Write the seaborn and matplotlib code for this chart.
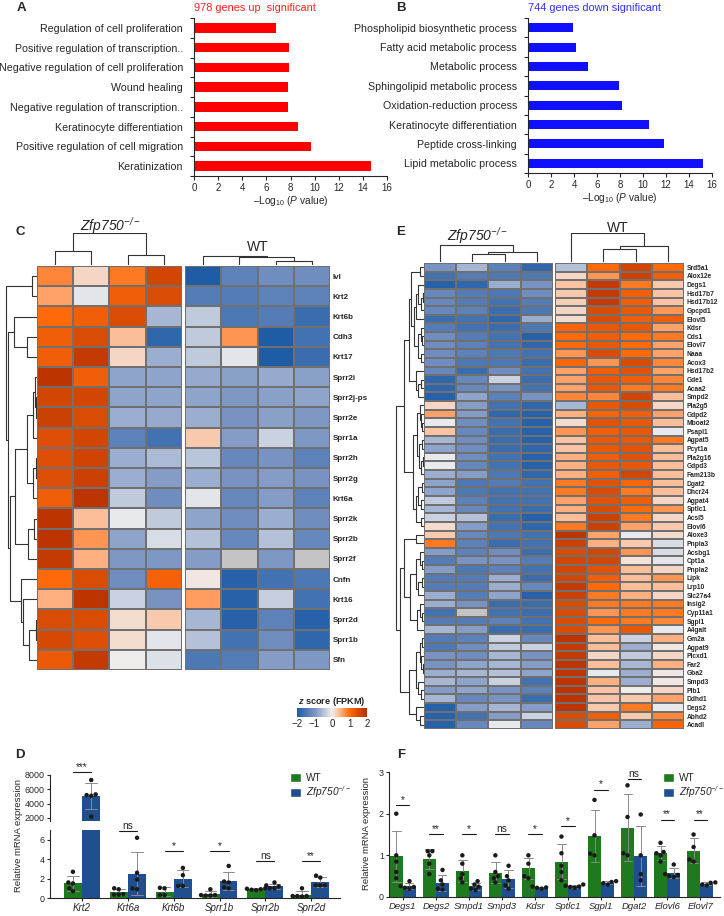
import numpy as np
import pandas as pd
import matplotlib
matplotlib.use('Agg')
import matplotlib.pyplot as plt
import seaborn as sns
from matplotlib.colors import LinearSegmentedColormap
from matplotlib.patches import Patch

W, H = 724, 916

    # GO terms (panels A, B)

go_up_terms = ['Regulation of cell proliferation', 'Positive regulation of transcription..',
               'Negative regulation of cell proliferation', 'Wound healing',
               'Negative regulation of transcription..', 'Keratinocyte differentiation',
               'Positive regulation of cell migration', 'Keratinization']
go_up_vals = [6.8, 7.9, 7.9, 7.8, 7.8, 8.6, 9.7, 14.7]

go_down_terms = ['Phospholipid biosynthetic process', 'Fatty acid metabolic process',
                 'Metabolic process', 'Sphingolipid metabolic process',
                 'Oxidation-reduction process', 'Keratinocyte differentiation',
                 'Peptide cross-linking', 'Lipid metabolic process']
go_down_vals = [3.9, 4.2, 5.2, 7.9, 8.2, 10.5, 11.8, 15.2]

    # heatmap C (z score, 4 KO + 4 WT samples)

c_genes = ['Ivl', 'Krt2', 'Krt6b', 'Cdh3', 'Krt17', 'Sprr2i', 'Sprr2j-ps', 'Sprr2e', 'Sprr1a',
           'Sprr2h', 'Sprr2g', 'Krt6a', 'Sprr2k', 'Sprr2b', 'Sprr2f', 'Cnfn', 'Krt16',
           'Sprr2d', 'Sprr1b', 'Sfn']
c_ko = [[0.8, 0.2, 0.9, 1.6], [0.6, -0.1, 1.2, 1.5], [1.0, 1.2, 1.5, -0.6], [1.2, 1.5, 0.4, -1.8],
        [1.2, 1.8, 0.2, -0.7], [1.9, 1.2, -0.8, -0.8], [1.6, 1.6, -0.8, -0.8], [1.7, 1.5, -0.7, -0.75],
        [1.45, 1.6, -1.3, -1.6], [1.45, 1.65, -0.7, -0.55], [1.45, 1.7, -0.7, -0.9], [1.2, 1.9, -0.4, -1.1],
        [1.9, 0.4, -0.05, -0.4], [1.9, 0.7, -0.8, -0.2], [1.8, 0.5, -0.95, -0.95], [1.0, 1.5, -1.1, 1.15],
        [0.5, 1.9, -0.3, -1.0], [1.5, 1.5, 0.15, 0.3], [1.55, 1.45, 0.15, -0.1], [1.25, 1.8, 0.0, -0.15]]
c_wt = [[-2.0, -1.3, -1.1, -1.1], [-1.4, -1.4, -1.3, -1.3], [-0.4, -1.5, -1.4, -1.7], [-0.4, 0.7, -2.0, -1.6],
        [-0.4, -0.1, -2.0, -1.7], [-0.75, -0.85, -0.75, -0.85], [-0.8, -0.95, -0.85, -0.8], [-0.7, -1.0, -0.85, -0.95],
        [0.3, -0.9, -0.3, -0.95], [-0.45, -1.2, -1.0, -1.3], [-0.7, -1.0, -0.9, -1.0], [-0.1, -1.2, -0.9, -1.3],
        [-0.8, -1.1, -0.7, -1.1], [-0.5, -1.2, -0.5, -1.2], [-0.9, np.nan, -0.95, np.nan], [0.05, -1.9, -1.6, -1.5],
        [0.65, -1.9, -0.35, -1.6], [-0.6, -1.9, -1.3, -1.9], [-0.5, -1.6, -1.1, -1.8], [-1.5, -1.4, -0.9, -0.95]]

# dendrograms as (height, left, right)
c_row_tree = (0.97, (0.15, 'Ivl', 'Krt2'),
              (0.9, (0.72, 'Krt6b', (0.32, 'Cdh3', 'Krt17')),
               (0.85, (0.7, (0.3, (0.12, (0.05, 'Sprr2i', (0.03, 'Sprr2j-ps', 'Sprr2e')), 'Sprr1a'),
                                  (0.12, (0.04, 'Sprr2h', 'Sprr2g'), 'Krt6a')),
                            (0.27, (0.1, 'Sprr2k', 'Sprr2b'), 'Sprr2f')),
                (0.5, 'Cnfn', (0.45, 'Krt16', (0.25, (0.03, 'Sprr2d', 'Sprr1b'), 'Sfn'))))))
c_col_ko = (32, (14, 0, 1), (10, 2, 3))
c_col_wt = (9, 0, (8.3, 1, (4, 2, 3)))

    # heatmap E

e_genes = ['Srd5a1', 'Alox12e', 'Degs1', 'Hsd17b7', 'Hsd17b12', 'Gpcpd1', 'Elovl5', 'Kdsr', 'Cds1',
           'Elovl7', 'Naaa', 'Acox3', 'Hsd17b2', 'Gde1', 'Acaa2', 'Smpd2', 'Pla2g5', 'Gdpd2', 'Mboat2',
           'Psapl1', 'Agpat5', 'Pcyt1a', 'Pla2g16', 'Gdpd3', 'Fam213b', 'Dgat2', 'Dhcr24', 'Agpat4',
           'Sptlc1', 'Acsl5', 'Elovl6', 'Aloxe3', 'Pnpla3', 'Acsbg1', 'Cpt1a', 'Pnpla2', 'Lipk', 'Lrp10',
           'Slc27a4', 'Insig2', 'Cyp11a1', 'Sgpl1', 'A4galt', 'Gm2a', 'Agpat9', 'Plcxd1', 'Far2', 'Gba2',
           'Smpd3', 'Plb1', 'Ddhd1', 'Degs2', 'Abhd2', 'Acadl']
e_ko = [[-1.0, -0.6, -1.3, -1.8], [-1.6, -1.4, -1.5, -1.5], [-1.9, -1.8, -0.7, -1.0], [-1.2, -1.4, -1.5, -1.1],
        [-1.2, -1.4, -1.6, -1.4], [-1.2, -1.3, -1.7, -1.5], [-1.7, -1.6, -1.8, -0.7], [-1.4, -1.6, -1.7, -1.5],
        [-1.1, -1.4, -1.6, -1.9], [-1.1, -1.3, -1.6, -1.8], [-1.1, -1.3, -1.5, -1.6], [-1.1, -1.5, -1.5, -1.7],
        [-1.2, -1.7, -1.1, -1.6], [-1.8, -1.2, -0.3, -1.7], [-1.8, -1.2, -1.0, -1.6], [-1.9, -0.8, -1.3, -1.0],
        [0.2, -0.9, -1.6, -1.8], [0.6, -0.9, -1.8, -1.9], [-0.05, -1.1, -1.6, -1.9], [0.35, -1.2, -1.7, -1.9],
        [-0.6, -1.1, -1.7, -1.9], [-0.8, -1.1, -1.7, -1.8], [-0.05, -1.1, -1.6, -1.9], [-0.05, -1.2, -1.6, -1.9],
        [-0.7, -0.9, -1.5, -1.8], [-0.8, -1.5, -1.4, -1.6], [-0.8, -1.5, -1.6, -1.6], [-0.4, -1.3, -1.6, -1.6],
        [-0.6, -1.2, -1.6, -1.7], [-0.3, -0.5, -1.7, -1.9], [0.15, -0.9, -1.6, -1.8], [0.3, -1.2, -1.5, -1.6],
        [0.9, -1.3, -1.7, -1.6], [-0.9, -1.3, -1.1, -1.7], [-1.4, -1.0, -1.0, -1.4], [-0.9, -1.5, -1.3, -1.6],
        [-1.4, -1.4, -0.7, -1.7], [-1.4, -1.4, -0.7, -1.2], [-0.7, -1.4, -0.8, -1.9], [-0.7, -1.0, -1.7, -1.7],
        [-1.6, np.nan, -1.6, -1.7], [-1.4, -1.4, -1.3, -1.6], [-0.6, -0.9, -1.7, -1.7], [-1.4, -1.3, -0.3, -1.2],
        [-1.5, -1.1, -0.4, -0.3], [-1.0, -1.1, -0.6, -1.0], [-1.0, -0.8, -0.6, -0.9], [-0.7, -0.6, -0.5, -0.8],
        [-0.6, -0.8, -0.3, -1.6], [-0.9, -0.8, -1.0, -1.3], [-0.6, -1.2, -1.0, -1.7], [-1.9, -0.9, -0.6, -0.9],
        [-1.9, -1.6, -0.9, -0.3], [-1.9, -1.2, -0.05, -1.2]]
e_wt = [[-0.5, 1.0, 1.6, 1.0], [0.2, 0.7, 1.7, 1.2], [0.35, 1.8, 0.9, 0.3], [0.3, 1.8, 1.2, 0.35],
        [0.25, 1.8, 1.2, 0.35], [0.2, 1.5, 1.3, 0.7], [0.15, 1.5, 1.2, 1.2], [1.1, 1.3, 1.3, 0.6],
        [1.0, 1.2, 1.0, 0.9], [1.0, 1.3, 1.0, 0.6], [0.7, 1.5, 1.0, 0.6], [1.1, 0.7, 1.5, 0.8],
        [0.6, 1.2, 1.4, 0.6], [0.6, 1.3, 1.2, 0.8], [0.6, 1.3, 0.9, 0.9], [0.8, 0.8, 1.6, 0.4],
        [-0.6, 1.3, 1.5, 0.2], [0.5, 1.1, 1.2, 0.6], [0.15, 1.4, 1.3, 0.4], [0.7, 1.2, 1.3, -0.05],
        [0.35, 1.3, 1.3, 0.9], [0.35, 1.3, 1.4, 0.4], [0.5, 1.2, 1.4, 0.4], [0.5, 1.3, 1.3, 0.4],
        [0.5, 1.2, 1.6, 0.4], [0.9, 1.4, 1.1, 0.4], [0.9, 1.5, 0.9, 0.4], [0.6, 1.4, 1.2, 0.2],
        [0.5, 1.5, 1.0, 0.7], [0.4, 1.7, 0.9, 0.2], [0.9, 1.7, 0.6, 0.3], [1.9, 0.6, -0.05, 0.15],
        [1.7, 0.5, 0.3, -0.2], [1.5, 1.6, 0.7, -0.2], [1.6, 1.6, 0.1, -0.1], [1.6, 1.4, 0.4, 0.2],
        [1.6, 1.2, 0.4, 0.7], [1.8, 1.0, 0.4, 0.4], [1.7, 0.9, 0.5, 0.2], [1.5, 0.9, 0.9, 0.9],
        [1.5, 0.7, 0.9, 0.9], [1.5, 1.0, 0.9, 0.8], [1.5, 0.7, 1.3, -0.05], [1.9, 0.4, -0.3, 0.5],
        [1.8, 0.4, -0.7, 0.05], [1.8, 0.2, -0.4, 0.2], [1.9, 0.4, -0.6, 0.5], [1.9, -0.05, -0.7, 0.05],
        [1.9, 0.5, -0.7, 0.05], [1.9, 0.35, 0.0, 0.2], [1.9, 0.35, 0.3, 0.6], [1.9, 0.3, 0.9, -0.05],
        [1.5, 1.2, 0.3, 0.8], [1.5, 0.6, -0.7, 1.1]]

e_g1 = (0.15, 'Srd5a1', 'Alox12e')
e_g2 = (0.3, (0.2, 'Degs1', (0.12, (0.05, 'Hsd17b7', 'Hsd17b12'), 'Gpcpd1')), 'Elovl5')
e_g3 = (0.2, (0.1, 'Kdsr', (0.06, 'Cds1', 'Elovl7')), (0.12, 'Naaa', 'Acox3'))
e_g4 = (0.3, 'Hsd17b2', (0.22, (0.1, 'Gde1', 'Acaa2'), 'Smpd2'))
e_g5 = (0.4, (0.25, (0.15, 'Pla2g5', (0.1, 'Gdpd2', (0.06, 'Mboat2', 'Psapl1'))),
              (0.18, (0.08, 'Agpat5', 'Pcyt1a'), (0.1, (0.05, 'Pla2g16', 'Gdpd3'), 'Fam213b'))),
         (0.3, (0.2, (0.08, 'Dgat2', 'Dhcr24'), (0.1, 'Agpat4', 'Sptlc1')), (0.12, 'Acsl5', 'Elovl6')))
e_g6 = (0.3, 'Aloxe3', 'Pnpla3')
e_g7 = (0.5, (0.3, (0.15, 'Acsbg1', (0.08, 'Cpt1a', 'Pnpla2')), (0.2, (0.08, 'Lipk', 'Lrp10'), 'Slc27a4')),
         (0.25, (0.15, 'Insig2', (0.08, 'Cyp11a1', 'Sgpl1')), 'A4galt'))
e_g8 = (0.55, (0.3, (0.15, (0.08, 'Gm2a', 'Agpat9'), (0.1, 'Plcxd1', (0.05, 'Far2', 'Gba2'))),
               (0.2, 'Smpd3', (0.1, 'Plb1', 'Ddhd1'))),
         (0.3, 'Degs2', (0.15, 'Abhd2', 'Acadl')))
e_row_tree = (1.0, (0.7, (0.55, (0.45, e_g1, (0.35, e_g2, e_g3)), e_g4), e_g5),
              (0.85, (0.7, e_g6, e_g7), e_g8))
e_col_ko = (16.7, 0, (10, (7.7, 1, 2), 3))
e_col_wt = (28.4, 0, (15.7, (12.4, 1, 2), 3))

    # qPCR (panels D, F), individual animals

d_genes = ['Krt2', 'Krt6a', 'Krt6b', 'Sprr1b', 'Sprr2b', 'Sprr2d']
d_wt = [[2.7, 1.6, 1.5, 1.0, 0.7], [1.0, 0.9, 0.4, 0.35, 0.35], [1.05, 1.0, 0.3, 0.3],
        [0.9, 0.3, 0.25, 0.3, 0.25], [1.0, 0.95, 0.9, 0.85, 0.8], [1.0, 0.2, 0.15, 0.2, 0.2]]
d_ko = [[7300, 5300, 5100, 5200, 2200], [6.2, 2.6, 1.9, 0.9, 1.0], [3.1, 2.35, 1.25, 1.25],
        [3.3, 1.7, 1.6, 1.0, 1.1], [1.6, 1.3, 1.2, 1.0, 1.0], [2.3, 2.1, 1.3, 1.3, 1.3]]
d_sig = ['***', 'ns', '*', '*', 'ns', '**']
d_sig_y = [8420, 6.9, 4.8, 4.8, 3.8, 3.8]

f_genes = ['Degs1', 'Degs2', 'Smpd1', 'Smpd3', 'Kdsr', 'Sptlc1', 'Sgpl1', 'Dgat2', 'Elovl6', 'Elovl7']
f_wt = [[2.0, 1.0, 0.85, 0.6, 0.45], [1.1, 1.1, 1.0, 0.8, 0.55], [1.0, 0.8, 0.55, 0.45, 0.35],
        [1.0, 0.6, 0.5, 0.45, 0.35], [1.0, 0.8, 0.5, 0.45], [1.45, 1.05, 0.75, 0.6, 0.4],
        [2.33, 1.48, 1.04, 1.0], [2.68, 1.92, 1.05, 1.0], [1.3, 1.08, 1.05, 1.0, 0.85], [1.5, 1.2, 0.9, 0.85]]
f_ko = [[0.38, 0.26, 0.24, 0.22, 0.2], [0.65, 0.4, 0.3, 0.2, 0.18], [0.38, 0.3, 0.25, 0.2, 0.17],
        [0.75, 0.5, 0.4, 0.28, 0.2], [0.25, 0.23, 0.22, 0.2], [0.3, 0.27, 0.25, 0.24, 0.22],
        [0.38, 0.36, 0.33, 0.3], [1.98, 1.0, 0.55, 0.4], [0.78, 0.55, 0.53, 0.5, 0.48], [0.35, 0.34, 0.3, 0.28]]
f_sig = ['*', '**', '*', 'ns', '*', '*', '*', 'ns', '**', '**']
f_sig_y = [2.2, 1.52, 1.52, 1.52, 1.52, 1.7, 2.58, 2.84, 1.86, 1.86]

GREEN = '#1f7a1f'
BLUE = '#1f4f8f'
# \mathsf mapped to italic below, so digits get slanted too
KO_LABEL = r'$\mathsf{Zfp750}^{\mathsf{-/-}}$'

sns.set_theme(style='ticks')
plt.rcParams['font.family'] = ['Liberation Sans', 'DejaVu Sans']
plt.rcParams['mathtext.fontset'] = 'custom'
plt.rcParams['mathtext.rm'] = 'Liberation Sans'
plt.rcParams['mathtext.it'] = 'Liberation Sans:italic'
plt.rcParams['mathtext.sf'] = 'Liberation Sans:italic'
plt.rcParams['mathtext.bf'] = 'Liberation Sans:bold'
try:
    plt.rcParams['mathtext.bfit'] = 'Liberation Sans:bold:italic'
except KeyError:
    pass
plt.rcParams['axes.linewidth'] = 0.8

zcmap = LinearSegmentedColormap.from_list(
    'zs', [(0, '#1f5ca6'), (0.25, '#7893c2'), (0.5, '#eeeeee'), (0.62, '#ffb488'),
           (0.75, '#ff6a0a'), (1.0, '#b52f00')])

fig = plt.figure(figsize=(W / 100, H / 100), dpi=100)


def px_axes(x0, y0, x1, y1):
    return fig.add_axes([x0 / W, 1 - y1 / H, (x1 - x0) / W, (y1 - y0) / H])


def px_text(x, y, s, **kw):
    kw.setdefault('ha', 'center')
    kw.setdefault('va', 'center')
    fig.text(x / W, 1 - y / H, s, **kw)


def draw_tree(ax, node, pos_of, rows):
    'draw a dendrogram node recursively, returns (position, height)'
    if not isinstance(node, tuple):
        return pos_of[node], 0.0
    h, a, b = node
    pa, ha = draw_tree(ax, a, pos_of, rows)
    pb, hb = draw_tree(ax, b, pos_of, rows)
    p = [pa, pa, pb, pb]; q = [ha, h, h, hb]
    if rows: ax.plot(q, p, color='#333333', lw=0.8)
    else: ax.plot(p, q, color='#333333', lw=0.8)
    return (pa + pb) / 2, h


    ## A, B : GO bars

def go_panel(rect, terms, vals, color, title, tcolor):
    ax = px_axes(*rect)
    sns.barplot(x=vals, y=terms, color=color, saturation=1, width=0.47, linewidth=0, ax=ax)
    ax.set_xlim(0, 16)
    ax.set_xticks(range(0, 17, 2))
    ax.set_ylim(7.5, -0.47)
    ax.set_yticks(np.arange(-0.5, 8, 1), minor=True)
    ax.tick_params(axis='y', which='major', length=0, pad=8, labelsize=7.7)
    ax.tick_params(axis='y', which='minor', length=3, width=0.8)
    ax.tick_params(axis='x', length=3, width=0.8, labelsize=7, pad=2)
    ax.set_xlabel('\u2013Log$_{10}$ ($\\mathit{P}$ value)', fontsize=7.3, labelpad=1)
    ax.set_ylabel('')
    sns.despine(ax=ax)
    px_text(rect[0], 8, title, ha='left', color=tcolor, fontsize=7.9)
    return ax

go_panel((194, 18, 387, 176), go_up_terms, go_up_vals, '#ff0000', '978 genes up  significant', '#ff2020')
go_panel((528, 18, 712, 173), go_down_terms, go_down_vals, '#1010ff', '744 genes down significant', '#3030ff')


    ## C, E : heatmaps

def heat_panel(genes, ko, wt, x_ko, x_wt, x_dend, y0, y1, col_y0, col_ko, col_wt, col_top, row_tree, fs, labels_xy):
    n = len(genes)
    last = None
    for vals, (xa, xb) in [(ko, x_ko), (wt, x_wt)]:
        ax = px_axes(xa, y0, xb, y1)
        sns.heatmap(pd.DataFrame(vals, index=genes), cmap=zcmap, vmin=-2, vmax=2, cbar=False,
                    linewidths=0.25, linecolor='#707070', xticklabels=False, yticklabels=False, ax=ax)
        ax.set_facecolor('#c4c4c4')
        last = ax
    last.yaxis.tick_right()
    last.set_yticks(np.arange(n) + 0.5)
    last.set_yticklabels(genes, fontweight='bold', fontsize=fs, rotation=0)
    last.tick_params(axis='y', length=0, pad=2)

    rax = px_axes(x_dend, y0, x_ko[0], y1)
    draw_tree(rax, row_tree, {g: i + 0.5 for i, g in enumerate(genes)}, True)
    rax.set_ylim(n, 0); rax.set_xlim(1.03, 0); rax.axis('off')

    for tree, (xa, xb), lab, (lx, ly) in [(col_ko, x_ko, KO_LABEL, labels_xy[0]), (col_wt, x_wt, 'WT', labels_xy[1])]:
        cax = px_axes(xa, col_y0, xb, y0 - 1)
        draw_tree(cax, tree, {i: i + 0.5 for i in range(4)}, False)
        cax.set_xlim(0, 4); cax.set_ylim(0, col_top); cax.axis('off')
        px_text(lx, ly, lab, fontsize=10)
    return last

hm = heat_panel(c_genes, c_ko, c_wt, (37, 182), (185, 330), 4, 266, 670, 233, c_col_ko, c_col_wt, 32,
                c_row_tree, 5.8, ((110, 226), (258, 247)))
heat_panel(e_genes, e_ko, e_wt, (424, 553), (555, 684), 395, 263, 729, 233, e_col_ko, e_col_wt, 28.4,
           e_row_tree, 4.8, ((477, 236), (618, 228)))

cbax = px_axes(297, 708, 367, 717)
cb = fig.colorbar(hm.collections[0], cax=cbax, orientation='horizontal', ticks=[-2, -1, 0, 1, 2])
cb.outline.set_visible(False)
cb.ax.tick_params(length=0, labelsize=7, pad=1.5)
cb.ax.set_xticklabels(['\u22122', '\u22121', '0', '1', '2'])
px_text(332, 701, r'$\mathbfit{z}$ score (FPKM)', fontsize=6.6, fontweight='bold')


    ## D, F : qPCR bars

def long_df(genes, wt, ko):
    rows = []
    for g, a, b in zip(genes, wt, ko):
        for v in a: rows.append((g, 'WT', v))
        for v in b: rows.append((g, 'KO', v))
    return pd.DataFrame(rows, columns=['gene', 'group', 'value'])


def qpcr(ax, df):
    sns.barplot(data=df, x='gene', y='value', hue='group', hue_order=['WT', 'KO'], palette=[GREEN, BLUE],
                saturation=1, errorbar='sd', capsize=0.5, err_kws={'color': '#8a8a8a', 'linewidth': 0.7},
                width=0.78, linewidth=0, legend=False, ax=ax)
    sns.swarmplot(data=df, x='gene', y='value', hue='group', hue_order=['WT', 'KO'], palette=['k', 'k'],
                  dodge=True, size=3.2, legend=False, ax=ax)
    ax.set_xlabel(''); ax.set_ylabel('')
    sns.despine(ax=ax)
    ax.tick_params(length=2.5, width=0.8, labelsize=6.4, pad=1.2)


def sig_marks(ax, labels, ys):
    for i, (s, y) in enumerate(zip(labels, ys)):
        ax.plot([i - 0.2, i + 0.2], [y, y], color='k', lw=0.8, clip_on=False)
        ax.text(i, y, s, ha='center', va='bottom', fontsize=7.3, clip_on=False)


def legend_at(x, y):
    hs = [Patch(facecolor=GREEN), Patch(facecolor=BLUE)]
    fig.legend(hs, ['WT', KO_LABEL], loc='upper left', bbox_to_anchor=(x / W, 1 - y / H), frameon=False,
               fontsize=7.3, handlelength=1.1, handleheight=1.0, handletextpad=0.5, labelspacing=0.15,
               borderpad=0, borderaxespad=0)

ddf = long_df(d_genes, d_wt, d_ko)
dlo = px_axes(50, 830, 340, 898)
qpcr(dlo, ddf)
dlo.set_ylim(0, 7); dlo.set_yticks([0, 2, 4, 6]); dlo.set_xlim(-0.7, 5.63)
for t in dlo.get_xticklabels(): t.set_style('italic'); t.set_fontsize(7)
sig_marks(dlo, [''] + d_sig[1:], [np.nan] + d_sig_y[1:])

dhi = px_axes(50, 775, 340, 821)
qpcr(dhi, ddf)
dhi.set_ylim(1580, 8000); dhi.set_yticks([2000, 4000, 6000, 8000]); dhi.set_xlim(-0.7, 5.63)
dhi.spines['bottom'].set_visible(False)
dhi.tick_params(axis='x', bottom=False, labelbottom=False)
sig_marks(dhi, d_sig[:1], d_sig_y[:1])

px_text(19, 836, 'Relative mRNA expression', rotation=90, fontsize=6.8)
legend_at(290, 773)

fax = px_axes(389, 772, 720, 897)
qpcr(fax, long_df(f_genes, f_wt, f_ko))
fax.set_ylim(0, 3); fax.set_yticks([0, 1, 2, 3]); fax.set_xlim(-0.42, 9.6)
for t in fax.get_xticklabels(): t.set_style('italic'); t.set_fontsize(6.8)
sig_marks(fax, f_sig, f_sig_y)
px_text(367, 834, 'Relative mRNA expression', rotation=90, fontsize=6.8)
legend_at(663, 773)

    # panel letters
for s, x, y in [('A', 21, 8), ('B', 401, 8), ('C', 20, 232), ('E', 401, 232), ('D', 20, 755), ('F', 401, 755)]:
    px_text(x, y, s, fontsize=9.5, fontweight='bold')

fig.savefig('out.png', dpi=100)
